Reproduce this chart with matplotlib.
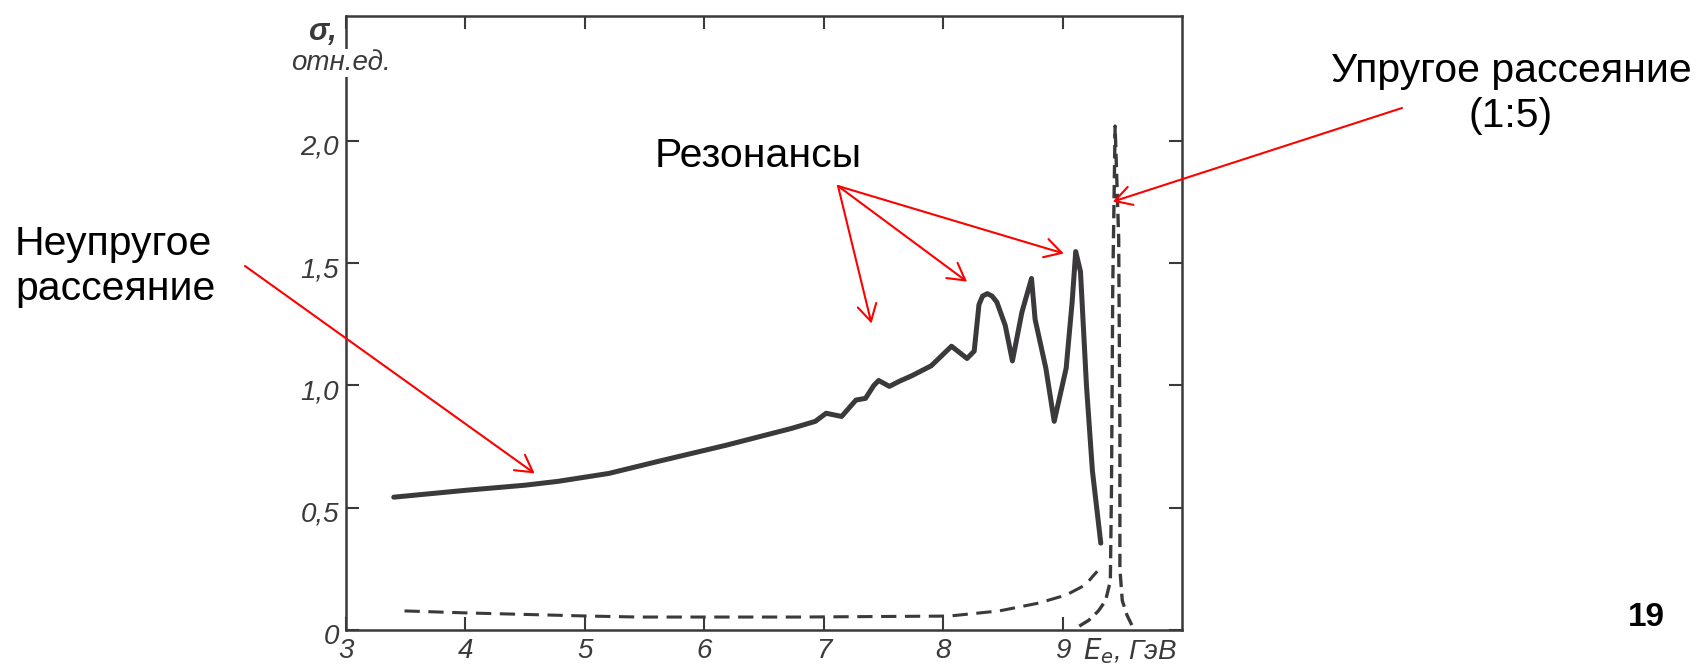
import matplotlib
matplotlib.use("Agg")
import matplotlib.pyplot as plt
from matplotlib.transforms import ScaledTranslation

# inelastic cross section (solid), energy in GeV
inel_e = [3.40, 4.00, 4.50, 4.78, 5.20, 5.62, 6.18, 6.73, 6.93, 7.02, 7.15, 7.27, 7.35,
          7.42, 7.46, 7.55, 7.63, 7.74, 7.90, 8.07, 8.20, 8.26, 8.30, 8.33, 8.37,
          8.41, 8.45, 8.52, 8.58, 8.66, 8.74, 8.77, 8.86, 8.93, 9.03, 9.08, 9.11,
          9.15, 9.20, 9.25, 9.32]
inel_s = [0.543, 0.571, 0.592, 0.608, 0.640, 0.690, 0.755, 0.824, 0.853, 0.886, 0.873, 0.940, 0.947,
          1.000, 1.020, 0.996, 1.016, 1.040, 1.080, 1.160, 1.110, 1.140, 1.330, 1.365, 1.375,
          1.365, 1.340, 1.245, 1.100, 1.300, 1.437, 1.270, 1.070, 0.853, 1.070, 1.340, 1.547,
          1.465, 1.000, 0.650, 0.355]

# radiative tail (dashed)
tail_e = [3.49, 4.00, 5.03, 5.45, 6.79, 8.05, 8.47, 8.80, 9.03, 9.19, 9.29]
tail_s = [0.078, 0.070, 0.057, 0.053, 0.053, 0.057, 0.078, 0.110, 0.143, 0.184, 0.240]

# elastic peak, drawn at 1:5 (dashed)
el_e = [9.14, 9.22, 9.30, 9.36, 9.40, 9.41, 9.42, 9.44, 9.47, 9.48, 9.48, 9.50, 9.54, 9.58]
el_s = [0.016, 0.040, 0.078, 0.120, 0.200, 0.600, 1.400, 2.060, 1.600, 0.800, 0.250, 0.120, 0.060, 0.020]

xticks = [3, 4, 5, 6, 7, 8, 9]
yticks = [0, 0.5, 1.0, 1.5, 2.0]
ytick_labels = ["0", "0,5", "1,0", "1,5", "2,0"]

ink = "#3b393b"
hand = ["Liberation Sans", "DejaVu Sans"]
sans = ["Liberation Sans", "DejaVu Sans"]

fig = plt.figure(figsize=(17.03, 6.66), dpi=100)
ax = fig.add_axes([346 / 1703, 1 - 630 / 666, (1182 - 346) / 1703, (630 - 16) / 666])

ax.plot(inel_e, inel_s, color=ink, lw=3.6, solid_capstyle="round", solid_joinstyle="round")
ax.plot(tail_e, tail_s, color=ink, lw=2.2, linestyle=(0, (5, 2.8)))
ax.plot(el_e, el_s, color=ink, lw=2.4, linestyle=(0, (4, 2.0)))

ax.set_xlim(3, 10)
ax.set_ylim(0, 2.51)

for s in ax.spines.values():
    s.set_color(ink)
    s.set_linewidth(1.8)

ax.set_xticks(xticks)
ax.set_xticklabels([str(t) for t in xticks])
ax.set_yticks(yticks)
ax.set_yticklabels(ytick_labels)
ax.tick_params(direction="in", top=True, right=True, length=9.5, width=1.5,
               color=ink, labelcolor=ink, labelsize=20)
ax.tick_params(axis="x", pad=6)
ax.tick_params(axis="y", pad=5)
for lab in ax.get_xticklabels() + ax.get_yticklabels():
    lab.set_family(hand)
    lab.set_style("italic")
for lab in ax.get_yticklabels():
    lab.set_transform(lab.get_transform() + ScaledTranslation(0, -4 / 100, fig.dpi_scale_trans))

# axis captions
fig.text(322 / 1703, 1 - 32 / 666, "σ,", ha="center", va="center", family=hand,
         style="italic", fontsize=22, weight="bold", color=ink)
fig.text(341 / 1703, 1 - 63 / 666, "отн.ед.", ha="center", va="center", family=hand,
         style="italic", fontsize=20, color=ink,
         bbox=dict(facecolor="white", edgecolor="none", pad=1))
fig.text(1130 / 1703, 1 - 651 / 666, "$E_e$, ГэВ", ha="center", va="center", family=hand,
         style="italic", fontsize=20, color=ink)

# annotations
fs = 29.5
fig.text(15 / 1703, 1 - 255 / 666, "Неупругое", family=sans, fontsize=fs, va="baseline")
fig.text(15 / 1703, 1 - 300 / 666, "рассеяние", family=sans, fontsize=fs, va="baseline")
fig.text(655 / 1703, 1 - 167 / 666, "Резонансы", family=sans, fontsize=fs, va="baseline")
fig.text(1511 / 1703, 1 - 82 / 666, "Упругое рассеяние", family=sans, fontsize=fs,
         ha="center", va="baseline")
fig.text(1511 / 1703, 1 - 127 / 666, "(1:5)", family=sans, fontsize=fs,
         ha="center", va="baseline")
fig.text(1646 / 1703, 1 - 618 / 666, "19", family=sans, fontsize=24, weight="bold",
         ha="center", va="center")

arrow = dict(arrowstyle="->,head_length=0.6,head_width=0.34", color="red", lw=1.5,
             mutation_scale=20, shrinkA=0, shrinkB=0)
ax.annotate("", xy=(4.58, 0.64), xytext=(245 / 1703, 1 - 266 / 666),
            textcoords="figure fraction", arrowprops=arrow)
for tip in [(7.40, 1.253), (8.20, 1.424), (9.01, 1.539)]:
    ax.annotate("", xy=tip, xytext=(838 / 1703, 1 - 186 / 666),
                textcoords="figure fraction", arrowprops=arrow)
ax.annotate("", xy=(9.42, 1.751), xytext=(1402 / 1703, 1 - 108 / 666),
            textcoords="figure fraction", arrowprops=arrow)

fig.savefig("out.png", dpi=100, facecolor="white")
